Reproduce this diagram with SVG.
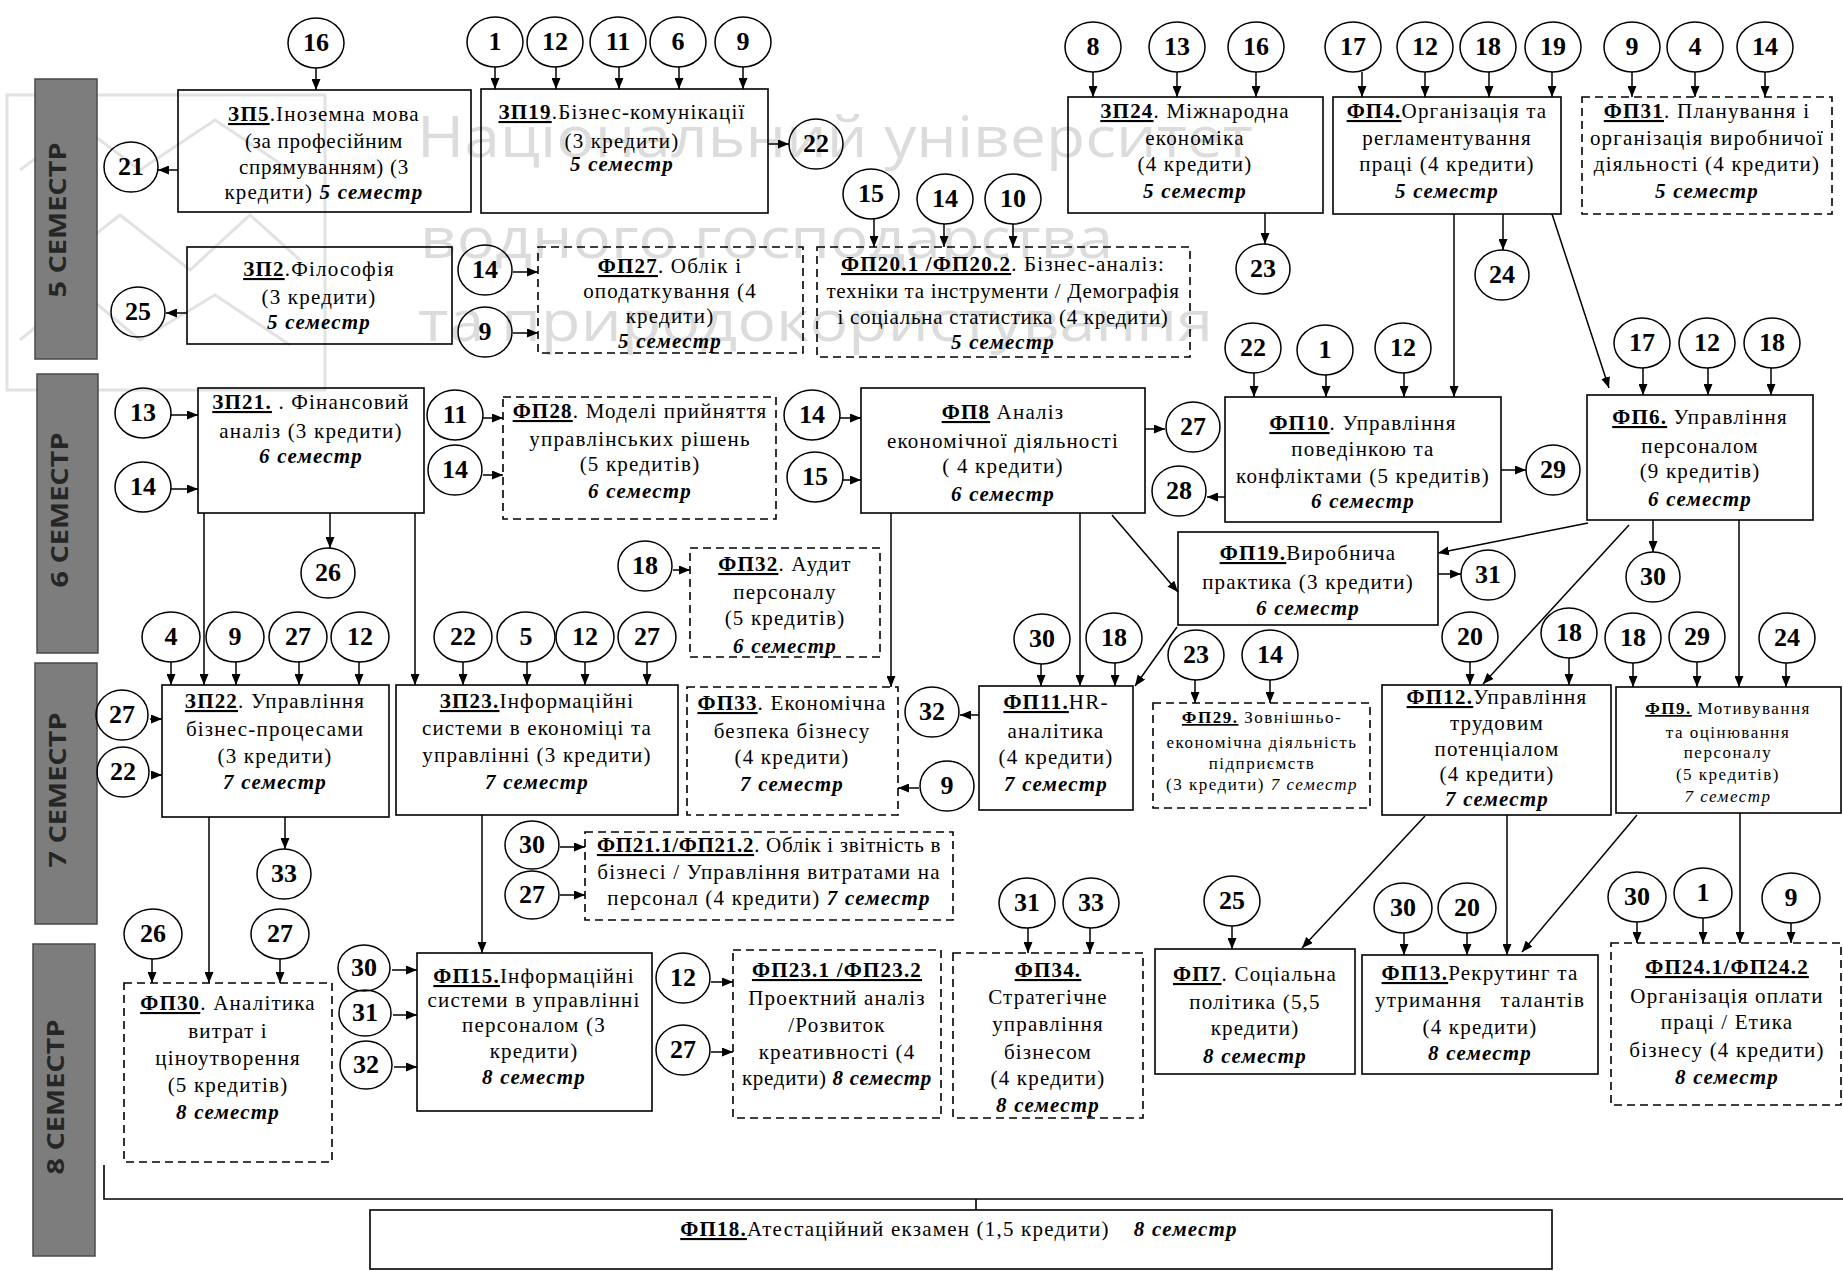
<svg xmlns="http://www.w3.org/2000/svg" width="1843" height="1271" viewBox="0 0 1843 1271">
<style>
.b{fill:none;stroke:#000;stroke-width:1.6}
.d{fill:none;stroke:#000;stroke-width:1.6;stroke-dasharray:8 5}
.c{fill:none;stroke:#000;stroke-width:1.5}
.n{font-family:"Liberation Serif",serif;font-weight:bold;font-size:26px;text-anchor:middle}
.t{font-family:"Liberation Serif",serif;font-size:21px;letter-spacing:1.2px;text-anchor:middle}
.sm{font-size:17px;letter-spacing:1.5px}
.tight{letter-spacing:0.7px}
.u{font-weight:bold;text-decoration:underline}
.s{font-weight:bold;font-style:italic}
.i{font-style:italic}
.e line{stroke:#000;stroke-width:1.5;fill:none;marker-end:url(#ah)}
.bar{fill:#7d7d7d;stroke:#4a4a4a;stroke-width:1.5}
.bt{font-family:"Open Sans","DejaVu Sans",sans-serif;font-weight:bold;font-size:24px;fill:#262626;text-anchor:middle}
.wm{font-family:"Open Sans","DejaVu Sans",sans-serif;font-size:56px;fill:#dcdcdc}
</style>
<defs>
<marker id="ah" markerUnits="userSpaceOnUse" markerWidth="11" markerHeight="9" refX="11" refY="4.5" orient="auto">
<path d="M0,0 L11,4.5 L0,9 z" fill="#000"/>
</marker>
</defs>
<rect width="1843" height="1271" fill="#fff"/>
<g id="watermark">
<rect x="7" y="95" width="318" height="295" fill="none" stroke="#e2e2e2" stroke-width="3"/>
<polyline points="20,170 80,125 140,170 215,120 290,170" fill="none" stroke="#e2e2e2" stroke-width="3"/>
<polyline points="50,270 120,215 190,270 250,215 300,260" fill="none" stroke="#e2e2e2" stroke-width="3"/>
<polyline points="20,340 80,290 140,340 215,295 290,345" fill="none" stroke="#e2e2e2" stroke-width="3"/>
<text class="wm" x="417" y="157" textLength="836" lengthAdjust="spacingAndGlyphs">Національний університет</text>
<text class="wm" x="420" y="258" textLength="693" lengthAdjust="spacingAndGlyphs">водного господарства</text>
<text class="wm" x="418" y="341" textLength="795" lengthAdjust="spacingAndGlyphs">та природокористування</text>
</g>
<g id="semesters">
<rect class="bar" x="35" y="79" width="62" height="280"/>
<text class="bt" transform="translate(56,220) rotate(-90)" dominant-baseline="central" textLength="155" lengthAdjust="spacingAndGlyphs">5 СЕМЕСТР</text>
<rect class="bar" x="37" y="374" width="61" height="279"/>
<text class="bt" transform="translate(58,510) rotate(-90)" dominant-baseline="central" textLength="155" lengthAdjust="spacingAndGlyphs">6 СЕМЕСТР</text>
<rect class="bar" x="35" y="663" width="62" height="261"/>
<text class="bt" transform="translate(56,790) rotate(-90)" dominant-baseline="central" textLength="155" lengthAdjust="spacingAndGlyphs">7 СЕМЕСТР</text>
<rect class="bar" x="33" y="944" width="62" height="312"/>
<text class="bt" transform="translate(54,1097) rotate(-90)" dominant-baseline="central" textLength="155" lengthAdjust="spacingAndGlyphs">8 СЕМЕСТР</text>
</g>
<g id="connectors" class="e">
<line x1="316" y1="68" x2="316" y2="90"/>
<line x1="495" y1="67" x2="495" y2="89"/>
<line x1="556" y1="67" x2="556" y2="89"/>
<line x1="619" y1="67" x2="619" y2="89"/>
<line x1="679" y1="67" x2="679" y2="89"/>
<line x1="743" y1="67" x2="743" y2="89"/>
<line x1="1093" y1="72" x2="1093" y2="97"/>
<line x1="1177" y1="72" x2="1177" y2="97"/>
<line x1="1256" y1="72" x2="1256" y2="97"/>
<line x1="1362" y1="72" x2="1362" y2="97"/>
<line x1="1425" y1="72" x2="1425" y2="97"/>
<line x1="1489" y1="72" x2="1489" y2="97"/>
<line x1="1552" y1="72" x2="1552" y2="97"/>
<line x1="1632" y1="72" x2="1632" y2="97"/>
<line x1="1695" y1="72" x2="1695" y2="97"/>
<line x1="1765" y1="72" x2="1765" y2="97"/>
<line x1="178" y1="170" x2="158" y2="170"/>
<line x1="768" y1="144" x2="789" y2="144"/>
<line x1="187" y1="313" x2="166" y2="313"/>
<line x1="513" y1="272" x2="538" y2="272"/>
<line x1="513" y1="333" x2="538" y2="333"/>
<line x1="874" y1="219" x2="874" y2="247"/>
<line x1="944" y1="224" x2="944" y2="247"/>
<line x1="1013" y1="224" x2="1013" y2="247"/>
<line x1="1265" y1="213" x2="1265" y2="244"/>
<line x1="1503" y1="214" x2="1503" y2="250"/>
<line x1="1454" y1="214" x2="1454" y2="397"/>
<line x1="1552" y1="214" x2="1609" y2="388"/>
<line x1="1254" y1="373" x2="1254" y2="397"/>
<line x1="1326" y1="375" x2="1326" y2="397"/>
<line x1="1404" y1="373" x2="1404" y2="397"/>
<line x1="1643" y1="368" x2="1643" y2="395"/>
<line x1="1708" y1="368" x2="1708" y2="395"/>
<line x1="1771" y1="368" x2="1771" y2="395"/>
<line x1="171" y1="415" x2="198" y2="415"/>
<line x1="171" y1="489" x2="198" y2="489"/>
<line x1="204" y1="513" x2="204" y2="685"/>
<line x1="415" y1="513" x2="415" y2="685"/>
<line x1="330" y1="513" x2="330" y2="548"/>
<line x1="483" y1="418" x2="503" y2="418"/>
<line x1="483" y1="475" x2="503" y2="475"/>
<line x1="840" y1="418" x2="861" y2="418"/>
<line x1="843" y1="480" x2="861" y2="480"/>
<line x1="1145" y1="429" x2="1165" y2="429"/>
<line x1="1225" y1="497" x2="1207" y2="497"/>
<line x1="1501" y1="470" x2="1526" y2="470"/>
<line x1="891" y1="513" x2="891" y2="687"/>
<line x1="1080" y1="513" x2="1080" y2="686"/>
<line x1="1112" y1="515" x2="1178" y2="592"/>
<line x1="1588" y1="523" x2="1438" y2="553"/>
<line x1="1653" y1="520" x2="1653" y2="552"/>
<line x1="1629" y1="525" x2="1483" y2="684"/>
<line x1="1739" y1="520" x2="1739" y2="687"/>
<line x1="1438" y1="574" x2="1461" y2="574"/>
<line x1="1177" y1="627" x2="1135" y2="686"/>
<line x1="673" y1="570" x2="690" y2="570"/>
<line x1="171" y1="662" x2="171" y2="685"/>
<line x1="236" y1="662" x2="236" y2="685"/>
<line x1="299" y1="662" x2="299" y2="685"/>
<line x1="359" y1="662" x2="359" y2="685"/>
<line x1="463" y1="662" x2="463" y2="685"/>
<line x1="527" y1="662" x2="527" y2="685"/>
<line x1="585" y1="662" x2="585" y2="685"/>
<line x1="647" y1="662" x2="647" y2="685"/>
<line x1="1041" y1="664" x2="1041" y2="686"/>
<line x1="1115" y1="663" x2="1115" y2="686"/>
<line x1="1195" y1="680" x2="1195" y2="703"/>
<line x1="1270" y1="680" x2="1270" y2="703"/>
<line x1="1470" y1="662" x2="1470" y2="685"/>
<line x1="1569" y1="658" x2="1569" y2="685"/>
<line x1="1633" y1="663" x2="1633" y2="687"/>
<line x1="1697" y1="662" x2="1697" y2="687"/>
<line x1="1786" y1="663" x2="1786" y2="687"/>
<line x1="150" y1="719" x2="162" y2="719"/>
<line x1="151" y1="775" x2="162" y2="775"/>
<line x1="979" y1="715" x2="960" y2="715"/>
<line x1="919" y1="788" x2="898" y2="788"/>
<line x1="209" y1="817" x2="209" y2="983"/>
<line x1="285" y1="817" x2="285" y2="849"/>
<line x1="482" y1="815" x2="482" y2="953"/>
<line x1="560" y1="847" x2="585" y2="847"/>
<line x1="560" y1="895" x2="585" y2="895"/>
<line x1="152" y1="959" x2="152" y2="983"/>
<line x1="280" y1="959" x2="280" y2="983"/>
<line x1="392" y1="970" x2="417" y2="970"/>
<line x1="393" y1="1015" x2="417" y2="1015"/>
<line x1="394" y1="1067" x2="417" y2="1067"/>
<line x1="711" y1="982" x2="733" y2="982"/>
<line x1="711" y1="1052" x2="733" y2="1052"/>
<line x1="1028" y1="928" x2="1028" y2="953"/>
<line x1="1090" y1="928" x2="1090" y2="953"/>
<line x1="1232" y1="926" x2="1232" y2="949"/>
<line x1="1425" y1="816" x2="1302" y2="948"/>
<line x1="1507" y1="815" x2="1507" y2="955"/>
<line x1="1637" y1="815" x2="1522" y2="952"/>
<line x1="1404" y1="933" x2="1404" y2="955"/>
<line x1="1467" y1="933" x2="1467" y2="955"/>
<line x1="1740" y1="813" x2="1740" y2="943"/>
<line x1="1637" y1="922" x2="1637" y2="943"/>
<line x1="1703" y1="918" x2="1703" y2="943"/>
<line x1="1791" y1="923" x2="1791" y2="943"/>
<path d="M104,1165 V1199 H1843 M976,1199 V1210" fill="none" stroke="#000" stroke-width="1.6"/>
</g>
<g id="circles">
<g id="c16a"><ellipse class="c" cx="316" cy="43" rx="28" ry="25"/><text class="n" x="316" y="51">16</text></g>
<g id="c1a"><ellipse class="c" cx="495" cy="42" rx="28" ry="25"/><text class="n" x="495" y="50">1</text></g>
<g id="c12a"><ellipse class="c" cx="555" cy="42" rx="28" ry="25"/><text class="n" x="555" y="50">12</text></g>
<g id="c11a"><ellipse class="c" cx="618" cy="42" rx="28" ry="25"/><text class="n" x="618" y="50">11</text></g>
<g id="c6"><ellipse class="c" cx="678" cy="42" rx="28" ry="25"/><text class="n" x="678" y="50">6</text></g>
<g id="c9a"><ellipse class="c" cx="743" cy="42" rx="28" ry="25"/><text class="n" x="743" y="50">9</text></g>
<g id="c8"><ellipse class="c" cx="1093" cy="47" rx="28" ry="25"/><text class="n" x="1093" y="55">8</text></g>
<g id="c13a"><ellipse class="c" cx="1177" cy="47" rx="28" ry="25"/><text class="n" x="1177" y="55">13</text></g>
<g id="c16b"><ellipse class="c" cx="1256" cy="47" rx="28" ry="25"/><text class="n" x="1256" y="55">16</text></g>
<g id="c17a"><ellipse class="c" cx="1353" cy="47" rx="28" ry="25"/><text class="n" x="1353" y="55">17</text></g>
<g id="c12b"><ellipse class="c" cx="1425" cy="47" rx="28" ry="25"/><text class="n" x="1425" y="55">12</text></g>
<g id="c18a"><ellipse class="c" cx="1488" cy="47" rx="28" ry="25"/><text class="n" x="1488" y="55">18</text></g>
<g id="c19"><ellipse class="c" cx="1553" cy="47" rx="28" ry="25"/><text class="n" x="1553" y="55">19</text></g>
<g id="c9b"><ellipse class="c" cx="1632" cy="47" rx="28" ry="25"/><text class="n" x="1632" y="55">9</text></g>
<g id="c4a"><ellipse class="c" cx="1695" cy="47" rx="28" ry="25"/><text class="n" x="1695" y="55">4</text></g>
<g id="c14a"><ellipse class="c" cx="1765" cy="47" rx="28" ry="25"/><text class="n" x="1765" y="55">14</text></g>
<g id="c21"><ellipse class="c" cx="131" cy="167" rx="27" ry="25"/><text class="n" x="131" y="175">21</text></g>
<g id="c22a"><ellipse class="c" cx="816" cy="144" rx="27" ry="25"/><text class="n" x="816" y="152">22</text></g>
<g id="c15a"><ellipse class="c" cx="871" cy="194" rx="28" ry="25"/><text class="n" x="871" y="202">15</text></g>
<g id="c14b"><ellipse class="c" cx="945" cy="199" rx="28" ry="25"/><text class="n" x="945" y="207">14</text></g>
<g id="c10"><ellipse class="c" cx="1013" cy="199" rx="28" ry="25"/><text class="n" x="1013" y="207">10</text></g>
<g id="c23a"><ellipse class="c" cx="1263" cy="269" rx="27" ry="25"/><text class="n" x="1263" y="277">23</text></g>
<g id="c24a"><ellipse class="c" cx="1502" cy="275" rx="27" ry="25"/><text class="n" x="1502" y="283">24</text></g>
<g id="c25a"><ellipse class="c" cx="138" cy="312" rx="27" ry="25"/><text class="n" x="138" y="320">25</text></g>
<g id="c14c"><ellipse class="c" cx="485" cy="270" rx="27" ry="25"/><text class="n" x="485" y="278">14</text></g>
<g id="c9c"><ellipse class="c" cx="485" cy="332" rx="27" ry="25"/><text class="n" x="485" y="340">9</text></g>
<g id="c22b"><ellipse class="c" cx="1253" cy="348" rx="28" ry="25"/><text class="n" x="1253" y="356">22</text></g>
<g id="c1b"><ellipse class="c" cx="1325" cy="350" rx="28" ry="25"/><text class="n" x="1325" y="358">1</text></g>
<g id="c12c"><ellipse class="c" cx="1403" cy="348" rx="28" ry="25"/><text class="n" x="1403" y="356">12</text></g>
<g id="c17b"><ellipse class="c" cx="1642" cy="343" rx="28" ry="25"/><text class="n" x="1642" y="351">17</text></g>
<g id="c12d"><ellipse class="c" cx="1707" cy="343" rx="28" ry="25"/><text class="n" x="1707" y="351">12</text></g>
<g id="c18b"><ellipse class="c" cx="1772" cy="343" rx="28" ry="25"/><text class="n" x="1772" y="351">18</text></g>
<g id="c13b"><ellipse class="c" cx="143" cy="413" rx="28" ry="25"/><text class="n" x="143" y="421">13</text></g>
<g id="c14d"><ellipse class="c" cx="143" cy="487" rx="28" ry="25"/><text class="n" x="143" y="495">14</text></g>
<g id="c11b"><ellipse class="c" cx="455" cy="415" rx="28" ry="25"/><text class="n" x="455" y="423">11</text></g>
<g id="c14e"><ellipse class="c" cx="455" cy="470" rx="27" ry="25"/><text class="n" x="455" y="478">14</text></g>
<g id="c14f"><ellipse class="c" cx="812" cy="415" rx="28" ry="25"/><text class="n" x="812" y="423">14</text></g>
<g id="c15b"><ellipse class="c" cx="815" cy="477" rx="28" ry="25"/><text class="n" x="815" y="485">15</text></g>
<g id="c27a"><ellipse class="c" cx="1193" cy="427" rx="27" ry="25"/><text class="n" x="1193" y="435">27</text></g>
<g id="c28"><ellipse class="c" cx="1179" cy="491" rx="27" ry="25"/><text class="n" x="1179" y="499">28</text></g>
<g id="c29a"><ellipse class="c" cx="1553" cy="470" rx="27" ry="25"/><text class="n" x="1553" y="478">29</text></g>
<g id="c31a"><ellipse class="c" cx="1488" cy="575" rx="27" ry="25"/><text class="n" x="1488" y="583">31</text></g>
<g id="c30a"><ellipse class="c" cx="1653" cy="577" rx="27" ry="25"/><text class="n" x="1653" y="585">30</text></g>
<g id="c26a"><ellipse class="c" cx="328" cy="573" rx="27" ry="25"/><text class="n" x="328" y="581">26</text></g>
<g id="c18c"><ellipse class="c" cx="645" cy="566" rx="27" ry="25"/><text class="n" x="645" y="574">18</text></g>
<g id="c4b"><ellipse class="c" cx="171" cy="637" rx="29" ry="25"/><text class="n" x="171" y="645">4</text></g>
<g id="c9d"><ellipse class="c" cx="235" cy="637" rx="29" ry="25"/><text class="n" x="235" y="645">9</text></g>
<g id="c27b"><ellipse class="c" cx="298" cy="637" rx="29" ry="25"/><text class="n" x="298" y="645">27</text></g>
<g id="c12e"><ellipse class="c" cx="360" cy="637" rx="29" ry="25"/><text class="n" x="360" y="645">12</text></g>
<g id="c22c"><ellipse class="c" cx="463" cy="637" rx="29" ry="25"/><text class="n" x="463" y="645">22</text></g>
<g id="c5"><ellipse class="c" cx="526" cy="637" rx="29" ry="25"/><text class="n" x="526" y="645">5</text></g>
<g id="c12f"><ellipse class="c" cx="585" cy="637" rx="29" ry="25"/><text class="n" x="585" y="645">12</text></g>
<g id="c27c"><ellipse class="c" cx="647" cy="637" rx="29" ry="25"/><text class="n" x="647" y="645">27</text></g>
<g id="c30b"><ellipse class="c" cx="1042" cy="639" rx="28" ry="25"/><text class="n" x="1042" y="647">30</text></g>
<g id="c18d"><ellipse class="c" cx="1114" cy="638" rx="28" ry="25"/><text class="n" x="1114" y="646">18</text></g>
<g id="c23b"><ellipse class="c" cx="1196" cy="655" rx="28" ry="25"/><text class="n" x="1196" y="663">23</text></g>
<g id="c14g"><ellipse class="c" cx="1270" cy="655" rx="28" ry="25"/><text class="n" x="1270" y="663">14</text></g>
<g id="c20a"><ellipse class="c" cx="1470" cy="637" rx="28" ry="25"/><text class="n" x="1470" y="645">20</text></g>
<g id="c18e"><ellipse class="c" cx="1569" cy="633" rx="28" ry="25"/><text class="n" x="1569" y="641">18</text></g>
<g id="c18f"><ellipse class="c" cx="1633" cy="638" rx="28" ry="25"/><text class="n" x="1633" y="646">18</text></g>
<g id="c29b"><ellipse class="c" cx="1697" cy="637" rx="28" ry="25"/><text class="n" x="1697" y="645">29</text></g>
<g id="c24b"><ellipse class="c" cx="1787" cy="638" rx="28" ry="25"/><text class="n" x="1787" y="646">24</text></g>
<g id="c27d"><ellipse class="c" cx="122" cy="715" rx="26" ry="25"/><text class="n" x="122" y="723">27</text></g>
<g id="c22d"><ellipse class="c" cx="123" cy="772" rx="26" ry="25"/><text class="n" x="123" y="780">22</text></g>
<g id="c32a"><ellipse class="c" cx="932" cy="712" rx="27" ry="25"/><text class="n" x="932" y="720">32</text></g>
<g id="c9e"><ellipse class="c" cx="947" cy="786" rx="27" ry="25"/><text class="n" x="947" y="794">9</text></g>
<g id="c33a"><ellipse class="c" cx="284" cy="874" rx="27" ry="25"/><text class="n" x="284" y="882">33</text></g>
<g id="c30c"><ellipse class="c" cx="532" cy="845" rx="27" ry="24"/><text class="n" x="532" y="853">30</text></g>
<g id="c27e"><ellipse class="c" cx="532" cy="895" rx="27" ry="24"/><text class="n" x="532" y="903">27</text></g>
<g id="c26b"><ellipse class="c" cx="153" cy="934" rx="29" ry="25"/><text class="n" x="153" y="942">26</text></g>
<g id="c27f"><ellipse class="c" cx="280" cy="934" rx="29" ry="25"/><text class="n" x="280" y="942">27</text></g>
<g id="c31b"><ellipse class="c" cx="1027" cy="903" rx="28" ry="25"/><text class="n" x="1027" y="911">31</text></g>
<g id="c33b"><ellipse class="c" cx="1091" cy="903" rx="28" ry="25"/><text class="n" x="1091" y="911">33</text></g>
<g id="c25b"><ellipse class="c" cx="1232" cy="901" rx="28" ry="25"/><text class="n" x="1232" y="909">25</text></g>
<g id="c30d"><ellipse class="c" cx="1403" cy="908" rx="29" ry="25"/><text class="n" x="1403" y="916">30</text></g>
<g id="c20b"><ellipse class="c" cx="1467" cy="908" rx="29" ry="25"/><text class="n" x="1467" y="916">20</text></g>
<g id="c30e"><ellipse class="c" cx="1637" cy="897" rx="29" ry="25"/><text class="n" x="1637" y="905">30</text></g>
<g id="c1c"><ellipse class="c" cx="1703" cy="893" rx="29" ry="25"/><text class="n" x="1703" y="901">1</text></g>
<g id="c9f"><ellipse class="c" cx="1791" cy="898" rx="29" ry="25"/><text class="n" x="1791" y="906">9</text></g>
<g id="c30f"><ellipse class="c" cx="364" cy="968" rx="26" ry="23"/><text class="n" x="364" y="976">30</text></g>
<g id="c31c"><ellipse class="c" cx="365" cy="1013" rx="26" ry="23"/><text class="n" x="365" y="1021">31</text></g>
<g id="c32b"><ellipse class="c" cx="366" cy="1065" rx="26" ry="24"/><text class="n" x="366" y="1073">32</text></g>
<g id="c12g"><ellipse class="c" cx="683" cy="978" rx="27" ry="25"/><text class="n" x="683" y="986">12</text></g>
<g id="c27g"><ellipse class="c" cx="683" cy="1050" rx="27" ry="25"/><text class="n" x="683" y="1058">27</text></g>
</g>
<g id="ZP5"><rect class="b" x="178" y="90" width="293" height="122"/>
<text class="t"><tspan x="324" y="121"><tspan class="u">ЗП5</tspan>.Іноземна мова</tspan><tspan x="324" y="148" class="tight">(за професійним</tspan><tspan x="324" y="174" class="tight">спрямуванням)  (3</tspan><tspan x="324" y="199">кредити) <tspan class="s">5 семестр</tspan></tspan></text></g>
<g id="ZP19"><rect class="b" x="481" y="89" width="287" height="124"/>
<text class="t"><tspan x="622" y="119"><tspan class="u">ЗП19</tspan>.Бізнес-комунікації</tspan><tspan x="622" y="148">(3 кредити)</tspan><tspan x="622" y="171" class="s">5 семестр</tspan></text></g>
<g id="ZP24"><rect class="b" x="1068" y="97" width="255" height="116"/>
<text class="t"><tspan x="1195" y="118"><tspan class="u">ЗП24</tspan>. Міжнародна</tspan><tspan x="1195" y="145">економіка</tspan><tspan x="1195" y="171">(4 кредити)</tspan><tspan x="1195" y="198" class="s">5 семестр</tspan></text></g>
<g id="FP4"><rect class="b" x="1333" y="97" width="228" height="117"/>
<text class="t"><tspan x="1447" y="118"><tspan class="u">ФП4.</tspan>Організація та</tspan><tspan x="1447" y="145">регламентування</tspan><tspan x="1447" y="171">праці (4 кредити)</tspan><tspan x="1447" y="198" class="s">5 семестр</tspan></text></g>
<g id="FP31"><rect class="d" x="1582" y="97" width="250" height="117"/>
<text class="t"><tspan x="1707" y="118"><tspan class="u">ФП31</tspan>. Планування і</tspan><tspan x="1707" y="145">організація виробничої</tspan><tspan x="1707" y="171">діяльності  (4 кредити)</tspan><tspan x="1707" y="198" class="s">5 семестр</tspan></text></g>
<g id="ZP2"><rect class="b" x="187" y="247" width="265" height="97"/>
<text class="t"><tspan x="319" y="276"><tspan class="u">ЗП2</tspan>.Філософія</tspan><tspan x="319" y="304">(3 кредити)</tspan><tspan x="319" y="329" class="s">5 семестр</tspan></text></g>
<g id="FP27"><rect class="d" x="538" y="247" width="265" height="106"/>
<text class="t"><tspan x="670" y="273"><tspan class="u">ФП27</tspan>. Облік і</tspan><tspan x="670" y="298">оподаткування (4</tspan><tspan x="670" y="323">кредити)</tspan><tspan x="670" y="348" class="s">5 семестр</tspan></text></g>
<g id="FP20"><rect class="d" x="817" y="247" width="373" height="110"/>
<text class="t"><tspan x="1003" y="271"><tspan class="u">ФП20.1 /ФП20.2</tspan>. Бізнес-аналіз:</tspan><tspan x="1003" y="298" class="tight">техніки та інструменти / Демографія</tspan><tspan x="1003" y="324" class="tight">і соціальна статистика (4 кредити)</tspan><tspan x="1003" y="349" class="s">5 семестр</tspan></text></g>
<g id="ZP21"><rect class="b" x="198" y="388" width="226" height="125"/>
<text class="t"><tspan x="311" y="409"><tspan class="u">ЗП21.</tspan> . Фінансовий</tspan><tspan x="311" y="438">аналіз (3 кредити)</tspan><tspan x="311" y="463" class="s">6 семестр</tspan></text></g>
<g id="FP28"><rect class="d" x="503" y="397" width="273" height="122"/>
<text class="t"><tspan x="640" y="418"><tspan class="u">ФП28</tspan>. Моделі прийняття</tspan><tspan x="640" y="446">управлінських рішень</tspan><tspan x="640" y="471">(5 кредитів)</tspan><tspan x="640" y="498" class="s">6 семестр</tspan></text></g>
<g id="FP8"><rect class="b" x="861" y="388" width="284" height="125"/>
<text class="t"><tspan x="1003" y="419"><tspan class="u">ФП8</tspan> Аналіз</tspan><tspan x="1003" y="448">економічної діяльності</tspan><tspan x="1003" y="473">( 4 кредити)</tspan><tspan x="1003" y="501" class="s">6 семестр</tspan></text></g>
<g id="FP10"><rect class="b" x="1225" y="397" width="276" height="125"/>
<text class="t"><tspan x="1363" y="430"><tspan class="u">ФП10</tspan>. Управління</tspan><tspan x="1363" y="456">поведінкою та</tspan><tspan x="1363" y="483">конфліктами (5 кредитів)</tspan><tspan x="1363" y="508" class="s">6 семестр</tspan></text></g>
<g id="FP6"><rect class="b" x="1587" y="395" width="226" height="125"/>
<text class="t"><tspan x="1700" y="424"><tspan class="u">ФП6.</tspan> Управління</tspan><tspan x="1700" y="453">персоналом</tspan><tspan x="1700" y="478">(9 кредитів)</tspan><tspan x="1700" y="506" class="s">6 семестр</tspan></text></g>
<g id="FP19"><rect class="b" x="1178" y="532" width="260" height="93"/>
<text class="t"><tspan x="1308" y="560"><tspan class="u">ФП19.</tspan>Виробнича</tspan><tspan x="1308" y="589">практика (3 кредити)</tspan><tspan x="1308" y="615" class="s">6 семестр</tspan></text></g>
<g id="FP32"><rect class="d" x="690" y="548" width="190" height="109"/>
<text class="t"><tspan x="785" y="571"><tspan class="u">ФП32</tspan>. Аудит</tspan><tspan x="785" y="599">персоналу</tspan><tspan x="785" y="625">(5 кредитів)</tspan><tspan x="785" y="653" class="s">6 семестр</tspan></text></g>
<g id="ZP22"><rect class="b" x="162" y="685" width="227" height="132"/>
<text class="t"><tspan x="275" y="708"><tspan class="u">ЗП22</tspan>. Управління</tspan><tspan x="275" y="736">бізнес-процесами</tspan><tspan x="275" y="763">(3 кредити)</tspan><tspan x="275" y="789" class="s">7 семестр</tspan></text></g>
<g id="ZP23"><rect class="b" x="396" y="685" width="282" height="130"/>
<text class="t"><tspan x="537" y="708"><tspan class="u">ЗП23.</tspan>Інформаційні</tspan><tspan x="537" y="735">системи в економіці та</tspan><tspan x="537" y="762">управлінні (3 кредити)</tspan><tspan x="537" y="789" class="s">7 семестр</tspan></text></g>
<g id="FP33"><rect class="d" x="687" y="687" width="211" height="128"/>
<text class="t"><tspan x="792" y="710"><tspan class="u">ФП33</tspan>. Економічна</tspan><tspan x="792" y="738">безпека бізнесу</tspan><tspan x="792" y="764">(4 кредити)</tspan><tspan x="792" y="791" class="s">7 семестр</tspan></text></g>
<g id="FP11"><rect class="b" x="979" y="686" width="154" height="124"/>
<text class="t"><tspan x="1056" y="709"><tspan class="u">ФП11.</tspan>HR-</tspan><tspan x="1056" y="738">аналітика</tspan><tspan x="1056" y="764">(4 кредити)</tspan><tspan x="1056" y="791" class="s">7 семестр</tspan></text></g>
<g id="FP29"><rect class="d" x="1153" y="703" width="217" height="105"/>
<text class="t sm"><tspan x="1262" y="723"><tspan class="u">ФП29.</tspan> Зовнішньо-</tspan><tspan x="1262" y="748">економічна діяльність</tspan><tspan x="1262" y="769">підприємств</tspan><tspan x="1262" y="790">(3 кредити) <tspan class="i">7 семестр</tspan></tspan></text></g>
<g id="FP12"><rect class="b" x="1382" y="685" width="229" height="130"/>
<text class="t"><tspan x="1497" y="704"><tspan class="u">ФП12.</tspan>Управління</tspan><tspan x="1497" y="730">трудовим</tspan><tspan x="1497" y="756">потенціалом</tspan><tspan x="1497" y="781">(4 кредити)</tspan><tspan x="1497" y="806" class="s">7 семестр</tspan></text></g>
<g id="FP9"><rect class="b" x="1616" y="687" width="225" height="126"/>
<text class="t sm"><tspan x="1728" y="714"><tspan class="u">ФП9.</tspan> Мотивування</tspan><tspan x="1728" y="738">та оцінювання</tspan><tspan x="1728" y="758">персоналу</tspan><tspan x="1728" y="780">(5 кредитів)</tspan><tspan x="1728" y="802" class="i">7 семестр</tspan></text></g>
<g id="FP21"><rect class="d" x="585" y="832" width="368" height="88"/>
<text class="t"><tspan x="769" y="852" class="tight"><tspan class="u">ФП21.1/ФП21.2</tspan>. Облік і звітність в</tspan><tspan x="769" y="879">бізнесі / Управління витратами на</tspan><tspan x="769" y="905">персонал (4 кредити) <tspan class="s">7 семестр</tspan></tspan></text></g>
<g id="FP30"><rect class="d" x="124" y="983" width="208" height="179"/>
<text class="t"><tspan x="228" y="1010"><tspan class="u">ФП30</tspan>. Аналітика</tspan><tspan x="228" y="1038">витрат і</tspan><tspan x="228" y="1065">ціноутворення</tspan><tspan x="228" y="1092">(5 кредитів)</tspan><tspan x="228" y="1119" class="s">8 семестр</tspan></text></g>
<g id="FP15"><rect class="b" x="417" y="953" width="235" height="158"/>
<text class="t"><tspan x="534" y="983"><tspan class="u">ФП15.</tspan>Інформаційні</tspan><tspan x="534" y="1007">системи в управлінні</tspan><tspan x="534" y="1032">персоналом (3</tspan><tspan x="534" y="1058">кредити)</tspan><tspan x="534" y="1084" class="s">8 семестр</tspan></text></g>
<g id="FP23"><rect class="d" x="733" y="950" width="208" height="168"/>
<text class="t"><tspan x="837" y="977" class="u">ФП23.1 /ФП23.2</tspan><tspan x="837" y="1005">Проектний аналіз</tspan><tspan x="837" y="1032">/Розвиток</tspan><tspan x="837" y="1059">креативності (4</tspan><tspan x="837" y="1085" class="tight">кредити) <tspan class="s">8 семестр</tspan></tspan></text></g>
<g id="FP34"><rect class="d" x="953" y="953" width="190" height="165"/>
<text class="t"><tspan x="1048" y="977" class="u">ФП34.</tspan><tspan x="1048" y="1004">Стратегічне</tspan><tspan x="1048" y="1031">управління</tspan><tspan x="1048" y="1059">бізнесом</tspan><tspan x="1048" y="1085">(4 кредити)</tspan><tspan x="1048" y="1112" class="s">8 семестр</tspan></text></g>
<g id="FP7"><rect class="b" x="1155" y="949" width="200" height="125"/>
<text class="t"><tspan x="1255" y="981"><tspan class="u">ФП7</tspan>. Соціальна</tspan><tspan x="1255" y="1009">політика (5,5</tspan><tspan x="1255" y="1035">кредити)</tspan><tspan x="1255" y="1063" class="s">8 семестр</tspan></text></g>
<g id="FP13"><rect class="b" x="1362" y="955" width="236" height="119"/>
<text class="t"><tspan x="1480" y="980"><tspan class="u">ФП13.</tspan>Рекрутинг та</tspan><tspan x="1480" y="1007">утримання <tspan dx="12">талантів</tspan></tspan><tspan x="1480" y="1034">(4 кредити)</tspan><tspan x="1480" y="1060" class="s">8 семестр</tspan></text></g>
<g id="FP24"><rect class="d" x="1611" y="943" width="230" height="162"/>
<text class="t"><tspan x="1727" y="974" class="u">ФП24.1/ФП24.2</tspan><tspan x="1727" y="1003">Організація оплати</tspan><tspan x="1727" y="1029">праці / Етика</tspan><tspan x="1727" y="1057">бізнесу (4 кредити)</tspan><tspan x="1727" y="1084" class="s">8 семестр</tspan></text></g>
<g id="FP18"><rect class="b" x="370" y="1210" width="1182" height="59"/>
<text class="t"><tspan x="959" y="1236"><tspan class="u">ФП18.</tspan>Атестаційний екзамен (1,5 кредити)<tspan class="s" dx="24">8 семестр</tspan></tspan></text></g>
</svg>
